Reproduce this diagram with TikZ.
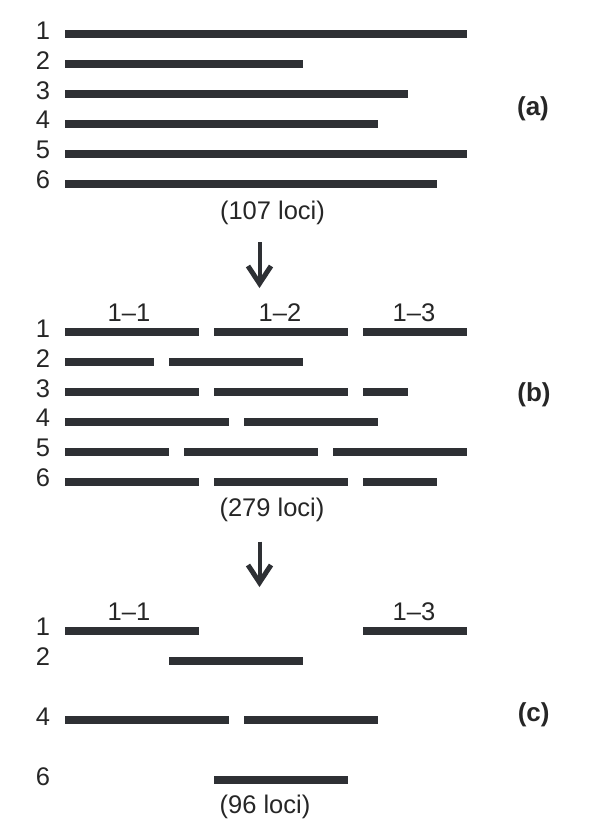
\documentclass[tikz,border=0pt]{standalone}
\usepackage{fontspec}
\setmainfont{Liberation Sans}
\definecolor{barcol}{HTML}{2E3034}
\definecolor{txtcol}{HTML}{262626}
\tikzset{
  bar/.style={draw=barcol, line width=8pt, line cap=butt},
  rownum/.style={anchor=base, inner sep=0pt, text=txtcol, font=\fontsize{25.5}{25.5}\selectfont},
  txt/.style={anchor=base, inner sep=0pt, text=txtcol, font=\fontsize{25.5}{25.5}\selectfont},
  panel/.style={anchor=base, inner sep=0pt, text=txtcol, font=\fontsize{26}{26}\selectfont\bfseries},
  shaft/.style={draw=barcol, line width=4pt, line cap=butt},
  chevron/.style={draw=barcol, line width=5pt, line join=miter, line cap=butt}
}
\begin{document}
\begin{tikzpicture}[x=1pt,y=-1pt]
\useasboundingbox (0,0) rectangle (602,830);
% ---------- panel (a)
\foreach \n/\y/\r in {1/34.3/467, 2/64.3/303, 3/94.3/408, 4/123.7/378, 5/153.7/467, 6/183.7/437}{
  \node[rownum] (a\n) at (43,\y+4.7) {\n};
  \draw[bar] (65,\y) -- (\r,\y);
}
\node[txt] (aloci) at (272.5,219) {(107 loci)};
\node[panel] (pa) at (533,115) {(a)};
% arrow 1
\coordinate (ar1s) at (259.5,242);
\coordinate (ar1e) at (259.5,284);
\draw[shaft] (ar1s) -- (ar1e);
\draw[chevron] ([shift={(-11.5,-18)}]ar1e) -- ([yshift=0.5]ar1e) -- ([shift={(11.5,-18)}]ar1e);
% ---------- panel (b)
\node[txt] (b11) at (129,321.7) {1–1};
\node[txt] (b12) at (280,321.7) {1–2};
\node[txt] (b13) at (414,321.7) {1–3};
\foreach \n/\y in {1/332.3, 2/362.3, 3/392.3, 4/422, 5/451.7, 6/481.7}{
  \node[rownum] (b\n) at (43,\y+4.7) {\n};
}
\draw[bar] (65,332.3) -- (199,332.3);
\draw[bar] (214,332.3) -- (348,332.3);
\draw[bar] (363,332.3) -- (467,332.3);
\draw[bar] (65,362.3) -- (154,362.3);
\draw[bar] (169,362.3) -- (303,362.3);
\draw[bar] (65,392.3) -- (199,392.3);
\draw[bar] (214,392.3) -- (348,392.3);
\draw[bar] (363,392.3) -- (408,392.3);
\draw[bar] (65,422) -- (229,422);
\draw[bar] (244,422) -- (378,422);
\draw[bar] (65,451.7) -- (169,451.7);
\draw[bar] (184,451.7) -- (318,451.7);
\draw[bar] (333,451.7) -- (467,451.7);
\draw[bar] (65,481.7) -- (199,481.7);
\draw[bar] (214,481.7) -- (348,481.7);
\draw[bar] (363,481.7) -- (437,481.7);
\node[txt] (bloci) at (272,516) {(279 loci)};
\node[panel] (pb) at (534,401.7) {(b)};
% arrow 2
\coordinate (ar2s) at (259.5,541.5);
\coordinate (ar2e) at (259.5,583);
\draw[shaft] (ar2s) -- (ar2e);
\draw[chevron] ([shift={(-11.5,-18)}]ar2e) -- ([yshift=0.5]ar2e) -- ([shift={(11.5,-18)}]ar2e);
% ---------- panel (c)
\node[txt] (c11) at (129,620.7) {1–1};
\node[txt] (c13) at (414,620.7) {1–3};
\node[rownum] (c1) at (43,635) {1};
\node[rownum] (c2) at (43,665) {2};
\node[rownum] (c4) at (43,725) {4};
\node[rownum] (c6) at (43,785) {6};
\draw[bar] (65,630.7) -- (199,630.7);
\draw[bar] (363,630.7) -- (467,630.7);
\draw[bar] (169,660.7) -- (303,660.7);
\draw[bar] (65,720.3) -- (229,720.3);
\draw[bar] (244,720.3) -- (378,720.3);
\draw[bar] (214,780) -- (348,780);
\node[txt] (cloci) at (265,813.3) {(96 loci)};
\node[panel] (pc) at (533.7,721.7) {(c)};
\end{tikzpicture}
\end{document}
